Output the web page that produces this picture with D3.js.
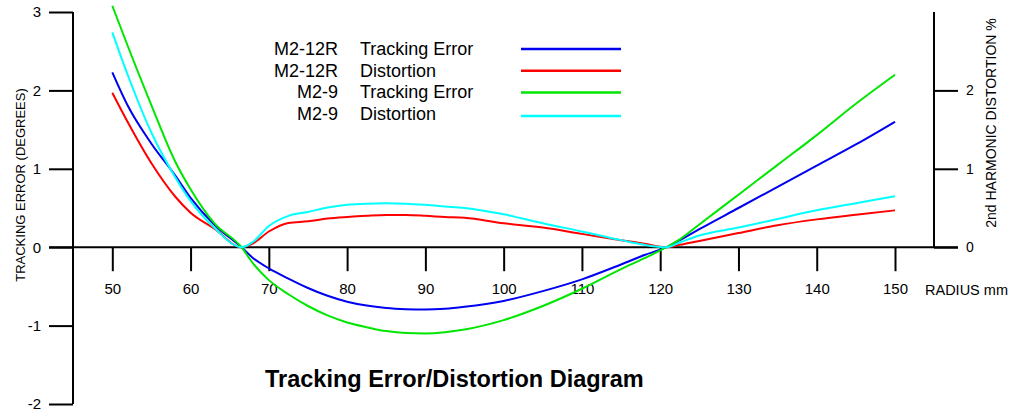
<!DOCTYPE html>
<html>
<head>
<meta charset="utf-8">
<script src="https://cdn.jsdelivr.net/npm/d3@7"></script>
<style>
  body { margin: 0; background: #fff; }
  text { font-family: "Liberation Sans", Arial, sans-serif; fill: #000; }
</style>
</head>
<body>
<div id="chart"></div>
<script>
// Data (radius in mm):
var radius =        [50, 52, 55, 58, 60, 63, 66.5, 68, 70, 72.5, 75, 77.5, 80, 82.5, 85, 87.5, 90, 92.5, 95, 100, 105, 110, 115, 118, 120.8, 122.5, 125, 130, 135, 140, 145, 150];
var m212Tracking =  [2.23, 1.80, 1.32, 0.92, 0.63, 0.29, 0, -0.14, -0.27, -0.40, -0.52, -0.62, -0.695, -0.745, -0.775, -0.79, -0.795, -0.785, -0.76, -0.685, -0.56, -0.41, -0.22, -0.10, 0, 0.09, 0.23, 0.50, 0.77, 1.04, 1.31, 1.60];
var m212Distortion = [1.97, 1.59, 1.07, 0.65, 0.44, 0.24, 0, 0.05, 0.20, 0.31, 0.33, 0.365, 0.385, 0.40, 0.41, 0.41, 0.40, 0.385, 0.375, 0.305, 0.25, 0.17, 0.09, 0.045, 0, 0.03, 0.08, 0.18, 0.28, 0.355, 0.415, 0.47];
var m29Tracking =   [3.08, 2.56, 1.81, 1.10, 0.74, 0.31, 0, -0.21, -0.42, -0.60, -0.75, -0.87, -0.96, -1.02, -1.07, -1.095, -1.10, -1.085, -1.05, -0.93, -0.75, -0.53, -0.28, -0.14, 0, 0.10, 0.29, 0.67, 1.05, 1.43, 1.83, 2.20];
var m29Distortion = [2.74, 2.19, 1.46, 0.90, 0.59, 0.25, 0, 0.07, 0.27, 0.40, 0.45, 0.505, 0.54, 0.555, 0.56, 0.555, 0.54, 0.52, 0.50, 0.42, 0.305, 0.20, 0.09, 0.03, 0, 0.06, 0.15, 0.25, 0.36, 0.47, 0.56, 0.65];

var xTicks = [50, 60, 70, 80, 90, 100, 110, 120, 130, 140, 150];
var leftTicks = [-2, -1, 0, 1, 2, 3];
var rightTicks = [0, 1, 2];

var legendModels = ["M2-12R", "M2-12R", "M2-9", "M2-9"];
var legendKinds = ["Tracking Error", "Distortion", "Tracking Error", "Distortion"];

// Constants:
var width = 1009, height = 414;
var colors = ["#0000f0", "#ff0000", "#00e600", "#00ffff"];

var svg = d3.select("#chart").append("svg")
  .attr("width", width)
  .attr("height", height);

// Scales: tracking error on the left, distortion on the right (same zero line)
var x = d3.scaleLinear().domain([50, 150]).range([112.3, 895]);
var yLeft = d3.scaleLinear().domain([-2, 3]).range([404, 12]);
var yRight = d3.scaleLinear().domain([0, 3]).range([yLeft(0), 12]);

var series = [
  { values: m212Tracking, y: yLeft },
  { values: m212Distortion, y: yRight },
  { values: m29Tracking, y: yLeft },
  { values: m29Distortion, y: yRight }
];

//
// Axes (plain hyphen for negatives, like the original)
var fmt = function(d) { return String(d); };
var axisLeft = d3.axisLeft(yLeft).tickValues(leftTicks).tickFormat(fmt)
  .tickSize(24).tickSizeOuter(0).tickPadding(8);
var gLeft = svg.append("g").attr("transform", "translate(73,0)").call(axisLeft);

var axisRight = d3.axisRight(yRight).tickValues(rightTicks).tickFormat(fmt)
  .tickSize(24).tickSizeOuter(0).tickPadding(8);
var gRight = svg.append("g").attr("transform", "translate(934,0)").call(axisRight);

var axisBottom = d3.axisBottom(x).tickValues(xTicks).tickFormat(fmt)
  .tickSize(24).tickSizeOuter(0).tickPadding(12);
var gBottom = svg.append("g").attr("transform", "translate(0," + yLeft(0) + ")").call(axisBottom);

[gLeft, gRight, gBottom].forEach(function(g) {
  g.select(".domain").remove();
  g.selectAll(".tick line").attr("stroke", "#000").attr("stroke-width", 2);
  g.selectAll(".tick text").attr("fill", "#000");
});
gLeft.selectAll(".tick text").style("font-size", "15px");
gRight.selectAll(".tick text").style("font-size", "14px");
gBottom.selectAll(".tick text").style("font-size", "15px");

// The axis lines themselves
svg.append("line").attr("x1", 73).attr("x2", 73)
  .attr("y1", yLeft(3)).attr("y2", yLeft(-2))
  .attr("stroke", "#000").attr("stroke-width", 2);
svg.append("line").attr("x1", 934).attr("x2", 934)
  .attr("y1", yRight(3)).attr("y2", yRight(0))
  .attr("stroke", "#000").attr("stroke-width", 2);
svg.append("line").attr("x1", 49).attr("x2", 958)
  .attr("y1", yLeft(0)).attr("y2", yLeft(0))
  .attr("stroke", "#000").attr("stroke-width", 2);

// Axis titles
svg.append("text")
  .attr("transform", "translate(25,185) rotate(-90)")
  .attr("text-anchor", "middle")
  .style("font-size", "13px")
  .text("TRACKING ERROR (DEGREES)");
svg.append("text")
  .attr("transform", "translate(996,123) rotate(-90)")
  .attr("text-anchor", "middle")
  .style("font-size", "14px")
  .text("2nd HARMONIC DISTORTION %");
svg.append("text")
  .attr("x", 925).attr("y", 294.5)
  .style("font-size", "14.5px")
  .text("RADIUS mm");

//
// Curves
svg.selectAll("path.curve")
  .data(series)
  .enter()
  .append("path")
  .attr("class", "curve")
  .attr("fill", "none")
  .attr("stroke", function(d, i) { return colors[i]; })
  .attr("stroke-width", 2)
  .attr("d", function(s) {
    return d3.line()
      .x(function(d, i) { return x(radius[i]); })
      .y(function(d) { return s.y(d); })
      .curve(d3.curveMonotoneX)(s.values);
  });

//
// Legend
var legend = svg.selectAll("g.legend")
  .data(legendKinds)
  .enter()
  .append("g")
  .attr("class", "legend")
  .attr("transform", function(d, i) { return "translate(0," + (55 + i * 21.7) + ")"; });

legend.append("text")
  .attr("x", 338)
  .attr("text-anchor", "end")
  .style("font-size", "18px")
  .text(function(d, i) { return legendModels[i]; });
legend.append("text")
  .attr("x", 360)
  .style("font-size", "18px")
  .text(function(d) { return d; });
legend.append("line")
  .attr("x1", 521).attr("x2", 621)
  .attr("y1", function(d, i) { return i === 3 ? -4 : -6; })
  .attr("y2", function(d, i) { return i === 3 ? -4 : -6; })
  .attr("stroke", function(d, i) { return colors[i]; })
  .attr("stroke-width", 2.5);

// Title
svg.append("text")
  .attr("x", 265).attr("y", 387)
  .style("font-size", "23.5px")
  .style("font-weight", "bold")
  .text("Tracking Error/Distortion Diagram");
</script>
</body>
</html>
